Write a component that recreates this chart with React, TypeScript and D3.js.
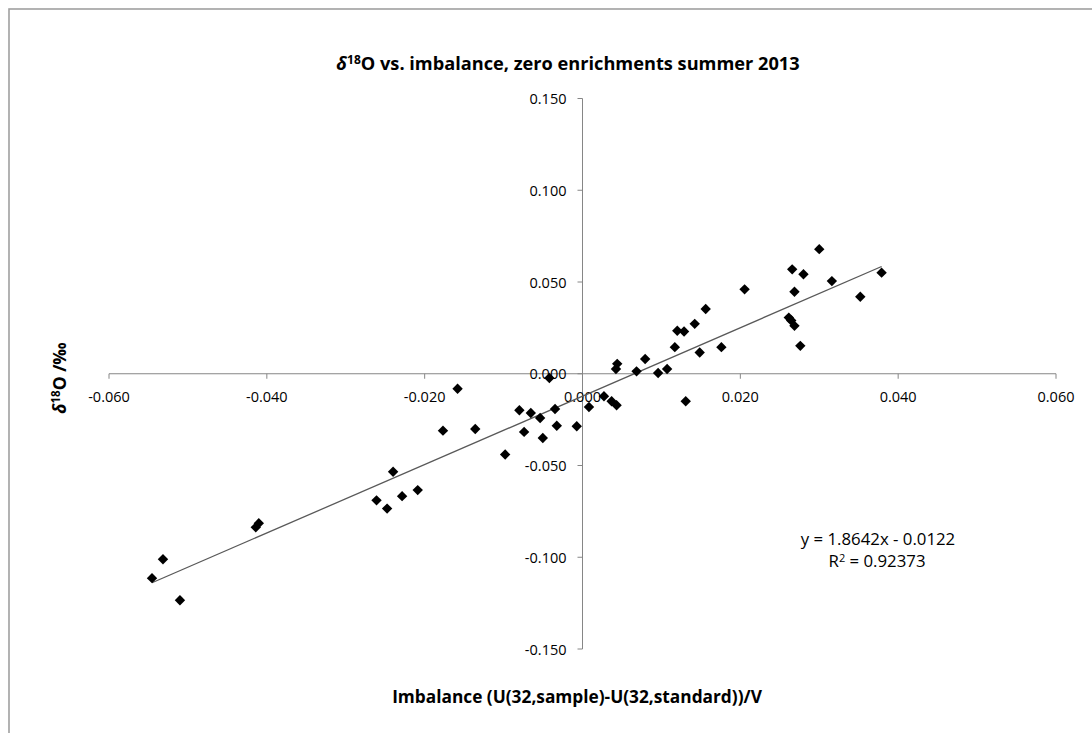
import React from "react";
import * as d3 from "d3";

// Imbalance (V) and δ18O (‰) for the zero-enrichment runs, summer 2013
const imbalance = [
  -0.05455, -0.05316, -0.05101, -0.0414, -0.04102, -0.0261, -0.02476, -0.024, -0.02286, -0.02088,
  -0.01768, -0.01583, -0.01359, -0.0098, -0.008, -0.0074, -0.00655, -0.00537, -0.00503, -0.0042,
  -0.00348, -0.00326, -0.00073, 0.00082, 0.00272, 0.00369, 0.00432, 0.00424, 0.0044, 0.00685,
  0.00794, 0.00958, 0.01072, 0.0117, 0.01201, 0.01287, 0.01308, 0.01422, 0.01485, 0.01561,
  0.0176, 0.02054, 0.02614, 0.02645, 0.02686, 0.02657, 0.02686, 0.0276, 0.028, 0.03,
  0.0316, 0.0352, 0.0379,
];
const delta18O = [
  -0.1114, -0.1011, -0.1234, -0.0837, -0.0815, -0.069, -0.0735, -0.0534, -0.0667, -0.0634,
  -0.031, -0.0082, -0.0301, -0.044, -0.0199, -0.0317, -0.0214, -0.0241, -0.035, -0.0023,
  -0.0192, -0.0283, -0.0286, -0.0181, -0.0123, -0.015, -0.0172, 0.0026, 0.0054, 0.0013,
  0.008, 0.0004, 0.0026, 0.0145, 0.0234, 0.023, -0.015, 0.0272, 0.0116, 0.0353,
  0.0145, 0.046, 0.0306, 0.029, 0.0261, 0.0569, 0.0447, 0.0152, 0.0542, 0.0679,
  0.0505, 0.042, 0.0551,
];

// Linear trend line
const slope = 1.8642;
const intercept = -0.0122;
const rSquared = "0.92373";

const xTicks = [-0.06, -0.04, -0.02, 0, 0.02, 0.04, 0.06];
const yTicks = [-0.15, -0.1, -0.05, 0, 0.05, 0.1, 0.15];

const FONT = "'Open Sans', sans-serif";

export default function App() {
  const x = d3.scaleLinear().domain([-0.06, 0.06]).range([109, 1056]);
  const y = d3.scaleLinear().domain([-0.15, 0.15]).range([649, 98.5]);
  const x0 = x(0);
  const y0 = y(0);
  const fmt = d3.formatLocale({ decimal: ".", thousands: ",", grouping: [3], currency: ["", ""], minus: "-" }).format(".3f");
  const axisColor = "#868686";

  const [xMin, xMax] = d3.extent(imbalance) as [number, number];
  const trend = d3
    .line<number>()
    .x((v) => x(v))
    .y((v) => y(slope * v + intercept));

  const r = 5.2;
  const diamond = `M0,${-r}L${r},0L0,${r}L${-r},0Z`;

  return (
    <svg
      width={1092}
      height={733}
      style={{ position: "fixed", left: 0, top: 0, background: "#fff" }}
      fontFamily={FONT}
    >
      <rect x={9} y={9} width={1200} height={900} fill="#fff" stroke="#a0a0a0" strokeWidth={1.6} />

      {/* Title */}
      <text x={568} y={70} textAnchor="middle" fontSize={18.2} fontWeight="bold" fill="#000">
        <tspan fontStyle="italic">δ</tspan>
        <tspan fontSize={12} dy={-6.5}>18</tspan>
        <tspan dy={6.5}>O vs. imbalance, zero enrichments summer 2013</tspan>
      </text>

      {/* Axes */}
      <line x1={x(-0.06)} x2={x(0.06)} y1={y0} y2={y0} stroke={axisColor} strokeWidth={1} />
      <line x1={x0} x2={x0} y1={y(0.15)} y2={y(-0.15)} stroke={axisColor} strokeWidth={1} />
      {xTicks.map((t) => (
        <g key={`xt${t}`}>
          <line x1={x(t)} x2={x(t)} y1={y0} y2={y0 + 5} stroke={axisColor} />
          <text x={x(t)} y={y0 + 28.5} textAnchor="middle" fontSize={14.5} fill="#000">
            {fmt(t)}
          </text>
        </g>
      ))}
      {yTicks.map((t) => (
        <g key={`yt${t}`}>
          <line x1={x0 - 5} x2={x0} y1={y(t)} y2={y(t)} stroke={axisColor} />
          <text x={x0 - 16} y={y(t) + 5.5} textAnchor="end" fontSize={14.5} fill="#000">
            {fmt(t)}
          </text>
        </g>
      ))}

      {/* Trend line */}
      <path d={trend([xMin, xMax]) ?? ""} fill="none" stroke="#595959" strokeWidth={1.3} />

      {/* Points */}
      {imbalance.map((v, i) => (
        <path key={i} d={diamond} transform={`translate(${x(v)},${y(delta18O[i])})`} fill="#000" />
      ))}

      {/* Equation */}
      <text x={878} y={545} textAnchor="middle" fontSize={16.8} fill="#000">
        y = {slope}x - {Math.abs(intercept)}
      </text>
      <text x={877} y={567} textAnchor="middle" fontSize={16.8} fill="#000">
        R<tspan fontSize={11} dy={-5.5}>2</tspan>
        <tspan dy={5.5}> = {rSquared}</tspan>
      </text>

      {/* Axis titles */}
      <text x={577} y={703} textAnchor="middle" fontSize={17.3} fontWeight="bold" fill="#000">
        Imbalance (U(32,sample)-U(32,standard))/V
      </text>
      <text
        transform={`translate(66,378) rotate(-90)`}
        textAnchor="middle"
        fontSize={17.5}
        fontWeight="bold"
        fill="#000"
      >
        <tspan fontStyle="italic">δ</tspan>
        <tspan fontSize={11.5} dy={-6.5}>18</tspan>
        <tspan dy={6.5}>O /‰</tspan>
      </text>
    </svg>
  );
}
